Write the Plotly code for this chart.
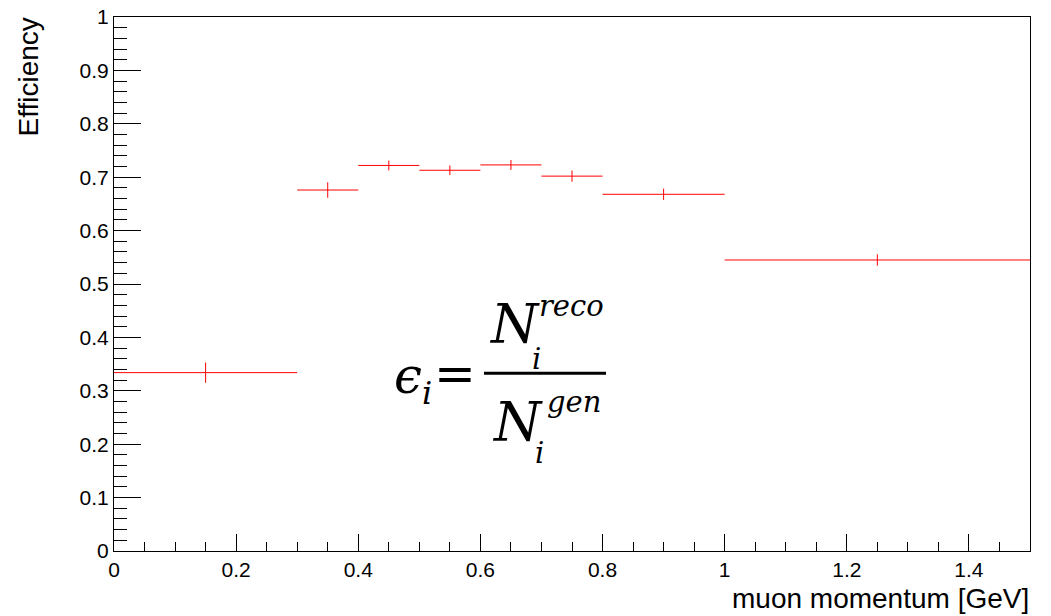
import plotly.graph_objects as go

# ---- data ----
bin_low = [0.0, 0.3, 0.4, 0.5, 0.6, 0.7, 0.8, 1.0]
bin_high = [0.3, 0.4, 0.5, 0.6, 0.7, 0.8, 1.0, 1.5]
efficiency = [0.334, 0.676, 0.722, 0.713, 0.723, 0.702, 0.668, 0.545]
eff_error = [0.019, 0.0146, 0.0093, 0.009, 0.0093, 0.0106, 0.0106, 0.0106]

x_tick_vals = [0, 0.2, 0.4, 0.6, 0.8, 1.0, 1.2, 1.4]
x_tick_text = ["0", "0.2", "0.4", "0.6", "0.8", "1", "1.2", "1.4"]
y_tick_vals = [0, 0.1, 0.2, 0.3, 0.4, 0.5, 0.6, 0.7, 0.8, 0.9, 1.0]
y_tick_text = ["0", "0.1", "0.2", "0.3", "0.4", "0.5", "0.6", "0.7", "0.8",
               "0.9", "1"]

x_title = "muon momentum [GeV]"
y_title = "Efficiency"

centers = [(a + b) / 2 for a, b in zip(bin_low, bin_high)]
half_w = [(b - a) / 2 for a, b in zip(bin_low, bin_high)]

RED = "#ff0000"

fig = go.Figure()
fig.add_trace(go.Scatter(
    x=centers, y=efficiency, mode="markers",
    marker=dict(size=0.1, color=RED, opacity=0),
    error_x=dict(type="data", array=half_w, symmetric=True, color=RED,
                 thickness=1, width=0),
    error_y=dict(type="data", array=eff_error, symmetric=True, color=RED,
                 thickness=1, width=0),
    showlegend=False, hoverinfo="skip",
))

# the page body adds an 8px offset; the figure is sized to compensate
OFF = 8
L, R, T, B = 114 - OFF, 1030 - OFF, 17 - OFF, 551.5 - OFF
W, H = 1051 - OFF, 616 - OFF


def px(xp):
    return (xp - OFF - L) / (R - L)


def py(yp):
    return (B - (yp - OFF)) / (B - T)


SERIF = "DejaVu Serif"
anns = []


def txt(s, x, y, size, italic=True, xa="left", ya="middle"):
    anns.append(dict(
        text=s, x=px(x), y=py(y), xref="paper", yref="paper",
        xanchor=xa, yanchor=ya, showarrow=False, borderpad=0,
        font=dict(family=SERIF, size=size, color="black",
                  style="italic" if italic else "normal"),
    ))


# formula epsilon_i = N_i^reco / N_i^gen
txt("\u03f5", 393, 376, 50)
txt("i", 421, 393, 32)
txt("=", 433, 374, 50, italic=False)
txt("N", 488, 325, 54)
txt("reco", 538, 306, 29)
txt("i", 531, 359, 29)
txt("N", 491, 423, 54)
txt("gen", 546, 402, 29)
txt("i", 534, 453, 29)

# axis titles
anns.append(dict(
    text=x_title, x=1, y=0, xref="paper", yref="paper",
    xanchor="right", yanchor="top", yshift=-31, showarrow=False,
    borderpad=0,
    font=dict(family="Liberation Sans", size=28, color="black"),
))
anns.append(dict(
    text=y_title, x=0, y=1, xref="paper", yref="paper",
    xanchor="center", yanchor="top", xshift=-86, textangle=-90,
    showarrow=False, borderpad=0,
    font=dict(family="Liberation Sans", size=28, color="black"),
))

fig.update_layout(
    width=W, height=H,
    margin=dict(l=L, r=W - R, t=T, b=H - B, autoexpand=False),
    paper_bgcolor="white", plot_bgcolor="white",
    annotations=anns,
    shapes=[dict(type="line", xref="paper", yref="paper",
                 x0=px(484), x1=px(606), y0=py(373.5), y1=py(373.5),
                 line=dict(color="black", width=3))],
    font=dict(family="Liberation Sans", size=21, color="black"),
)
fig.update_xaxes(
    range=[0, 1.5], showgrid=False, zeroline=False, automargin=False,
    showline=True, linecolor="black", linewidth=1, mirror=True,
    ticks="inside", tickmode="array", tickvals=x_tick_vals,
    ticktext=x_tick_text, ticklen=17, tickcolor="black", tickwidth=1,
    ticklabeloverflow="allow",
    minor=dict(ticks="inside", dtick=0.05, tick0=0, ticklen=9,
               tickcolor="black", showgrid=False),
)
fig.update_yaxes(
    range=[0, 1], showgrid=False, zeroline=False, automargin=False,
    showline=True, linecolor="black", linewidth=1, mirror=True,
    ticks="inside", tickmode="array", tickvals=y_tick_vals,
    ticktext=y_tick_text, ticklen=27, tickcolor="black", tickwidth=1,
    ticklabeloverflow="allow",
    minor=dict(ticks="inside", dtick=0.02, tick0=0, ticklen=13,
               tickcolor="black", showgrid=False),
)

fig.write_html("out.html")
